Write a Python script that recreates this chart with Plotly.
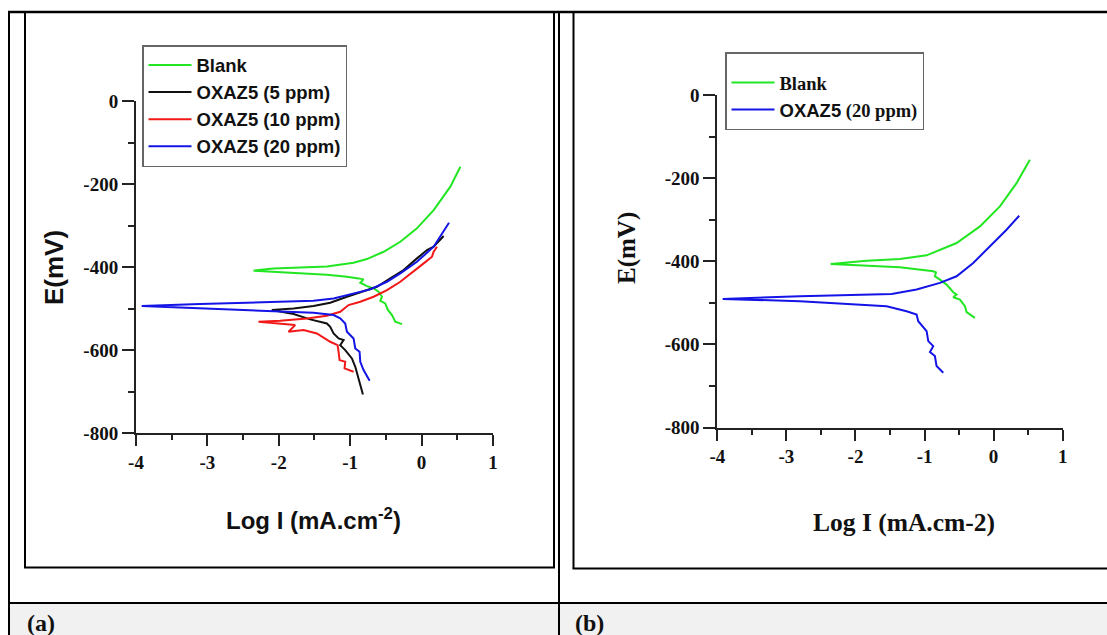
import plotly.graph_objects as go

W, H = 1107, 635

# ---------------- data ----------------
# Panel (a)
a_blank_x = [-0.274, -0.367, -0.414, -0.475, -0.508, -0.578, -0.554, -0.601, -0.671, -0.765, -0.858, -0.812, -0.882,
             -1.045, -1.326, -1.700, -2.074, -2.354, -2.074, -1.700, -1.326, -0.952, -0.765, -0.531, -0.297, -0.064,
             0.170, 0.404, 0.544]
a_blank_y = [-536.7, -531, -515, -501.3, -486.9, -480.5, -470.8, -458.8, -450.7, -445.1, -437.1, -429, -426.6,
             -422.6, -417.8, -414.6, -411.4, -408, -402.5, -400.1, -397.7, -388.9, -380, -362.4, -338.3, -306.1,
             -262, -205.7, -157.5]

a_5ppm_x = [-0.821, -0.882, -0.928, -0.975, -1.069, -1.139, -1.092, -1.162, -1.232, -1.279, -1.326, -1.560, -1.793,
            -2.097, -1.793, -1.513, -1.279, -1.045, -0.905, -0.765, -0.625, -0.438, -0.251, -0.064, 0.077, 0.170, 0.310]
a_5ppm_y = [-706.2, -671.6, -639.5, -619.4, -599.3, -587.3, -575.2, -571.2, -559.2, -543.1, -535.1, -525.4, -512.6,
            -503, -498.9, -493.3, -485.3, -470.8, -462.8, -456.4, -446.7, -426.6, -406.6, -378.4, -358.4, -350.3, -324.6]

a_10ppm_x = [-0.952, -1.078, -1.069, -1.148, -1.162, -1.176, -1.279, -1.466, -1.653, -1.863, -1.770, -1.980, -2.284,
             -1.980, -1.606, -1.326, -1.139, -1.022, -0.858, -0.671, -0.484, -0.297, -0.110, 0.030, 0.147, 0.170, 0.217]
a_10ppm_y = [-651.6, -643.5, -627.5, -623.4, -603.4, -587.3, -579.3, -559.2, -551.1, -555.2, -539.1, -535.1, -531,
             -528.7, -523, -516.6, -507, -490.9, -482.9, -470.8, -454.8, -434.7, -410.6, -390.5, -374.4, -362.4, -350.3]

a_20ppm_x = [-0.727, -0.812, -0.858, -0.868, -0.928, -0.952, -1.045, -1.069, -1.139, -1.232, -1.513, -2.167, -3.102,
             -3.920, -3.102, -2.167, -1.513, -1.232, -0.999, -0.718, -0.484, -0.297, -0.064, 0.170, 0.385]
a_20ppm_y = [-673.3, -647.5, -627.5, -603.4, -595.3, -571.2, -555.2, -535.1, -523, -515, -509.4, -504.6, -498.1,
             -493.3, -488.5, -484.5, -480.5, -474.8, -464.4, -453.1, -434.7, -414.6, -386.5, -350.3, -292.5]

# Panel (b)
b_blank_x = [-0.271, -0.391, -0.415, -0.488, -0.584, -0.536, -0.584, -0.681, -0.777, -0.849, -0.835, -0.873, -1.356,
             -1.838, -2.359, -1.838, -1.356, -0.970, -0.536, -0.198, 0.091, 0.332, 0.525]
b_blank_y = [-536, -522.4, -508, -492, -486.4, -480, -474.4, -456, -444, -436, -426.4, -424, -414.4,
             -410.4, -406.4, -398.4, -394.4, -385.6, -356, -316, -268, -212, -156]

b_20ppm_x = [-0.729, -0.826, -0.850, -0.922, -0.874, -0.946, -0.970, -1.091, -1.115, -1.260, -1.549, -2.803, -3.922,
             -2.803, -1.477, -1.115, -0.777, -0.536, -0.295, -0.054, 0.187, 0.371]
b_20ppm_y = [-668, -652, -628, -618.4, -604, -592, -568, -544, -528, -520, -508, -496, -490.4,
             -484, -478.4, -468, -452, -436, -404, -364, -324, -290.4]

x_tickvals = [-4, -3, -2, -1, 0, 1]
x_ticktext = ["-4", "-3", "-2", "-1", "0", "1"]
x_minor = [-3.5, -2.5, -1.5, -0.5, 0.5]
y_tickvals = [0, -200, -400, -600, -800]
y_ticktext = ["0", "-200", "-400", "-600", "-800"]
y_minor = [-100, -300, -500, -700]

names_a = ["Blank", "OXAZ5 (5 ppm)", "OXAZ5 (10 ppm)", "OXAZ5 (20 ppm)"]
names_b = ["Blank", '<span style="font-family:Liberation Sans, Arial, sans-serif">OXAZ5</span> (20 ppm)']

GREEN, BLACK, RED, BLUE = "#22e622", "#111111", "#f21818", "#1414e6"

# ---------------- helpers ----------------
def px(x):
    return x / W

def py(y):
    return 1 - y / H

SERIF = "Liberation Serif, Times New Roman, serif"
SANS = "Liberation Sans, Arial, sans-serif"

fig = go.Figure()

series_a = [(a_blank_x, a_blank_y, GREEN, names_a[0]),
            (a_5ppm_x, a_5ppm_y, BLACK, names_a[1]),
            (a_10ppm_x, a_10ppm_y, RED, names_a[2]),
            (a_20ppm_x, a_20ppm_y, BLUE, names_a[3])]
for xs, ys, c, n in series_a:
    fig.add_trace(go.Scatter(x=xs, y=ys, mode="lines", name=n, line=dict(color=c, width=2),
                             xaxis="x", yaxis="y", legend="legend"))

series_b = [(b_blank_x, b_blank_y, GREEN, names_b[0]),
            (b_20ppm_x, b_20ppm_y, BLUE, names_b[1])]
for xs, ys, c, n in series_b:
    fig.add_trace(go.Scatter(x=xs, y=ys, mode="lines", name=n, line=dict(color=c, width=2),
                             xaxis="x2", yaxis="y2", legend="legend2"))

TICKFONT = dict(family=SERIF, size=19, color="#111", weight="bold")

def xaxis_cfg(domain, anchor):
    return dict(domain=domain, anchor=anchor, range=[-4, 1], showgrid=False, zeroline=False,
                showline=True, linecolor="#222", linewidth=2,
                tickmode="array", tickvals=x_tickvals, ticktext=x_ticktext,
                ticks="outside", ticklen=11, tickwidth=2, tickcolor="#222",
                tickfont=TICKFONT,
                minor=dict(tickmode="array", tickvals=x_minor, ticks="outside", ticklen=5,
                           tickwidth=2, tickcolor="#222"),
                fixedrange=True)

def yaxis_cfg(domain, anchor):
    return dict(domain=domain, anchor=anchor, range=[-800, 0], showgrid=False, zeroline=False,
                showline=True, linecolor="#222", linewidth=2,
                tickmode="array", tickvals=y_tickvals, ticktext=y_ticktext,
                ticks="outside", ticklen=12, tickwidth=2, tickcolor="#222",
                tickfont=TICKFONT,
                minor=dict(tickmode="array", tickvals=y_minor, ticks="outside", ticklen=6,
                           tickwidth=2, tickcolor="#222"),
                fixedrange=True)

fig.update_layout(
    width=W, height=H, margin=dict(l=0, r=0, t=0, b=0, pad=0, autoexpand=False),
    paper_bgcolor="white", plot_bgcolor="rgba(0,0,0,0)",
    xaxis=xaxis_cfg([px(136), px(492.9)], "y"),
    yaxis=yaxis_cfg([py(433.4), py(101.3)], "x"),
    xaxis2=xaxis_cfg([px(717.3), px(1062.7)], "y2"),
    yaxis2=yaxis_cfg([py(427.6), py(95)], "x2"),
    legend=dict(x=px(142), y=py(45), xanchor="left", yanchor="top",
                bgcolor="white", bordercolor="#666", borderwidth=1.5,
                font=dict(family=SANS, size=18.5, color="#111", weight="bold"),
                itemwidth=43, tracegroupgap=0),
    legend2=dict(x=px(725), y=py(52), xanchor="left", yanchor="top",
                 bgcolor="white", bordercolor="#666", borderwidth=1.5,
                 font=dict(family=SERIF, size=18.5, color="#111", weight="bold"),
                 title=dict(text="&nbsp;", font=dict(size=8)),
                 itemwidth=43, tracegroupgap=0),
    showlegend=True,
)

# ---------------- table frame ----------------
shapes = []
def line(x0, y0, x1, y1, w=2, c="black"):
    shapes.append(dict(type="line", xref="paper", yref="paper", x0=px(x0), y0=py(y0), x1=px(x1), y1=py(y1),
                       line=dict(color=c, width=w), layer="above"))

shapes.append(dict(type="rect", xref="paper", yref="paper", x0=px(9), x1=px(W), y0=py(603), y1=py(H),
                   fillcolor="#f1f1f1", line=dict(width=0), layer="below"))
line(8, 12, W, 12, 2.5)         # top
line(9, 11, 9, H, 2)            # outer left
line(559, 11, 559, H, 2)        # cell divider
line(9, 603, W, 603, 2)         # row line
line(25, 11, 25, 567.5, 2)      # box a left
line(554, 11, 554, 567.5, 2)    # box a right
line(24, 567.5, 555, 567.5, 2)  # box a bottom
line(573.5, 11, 573.5, 568.5, 2)  # box b left
line(572.5, 568.5, W, 568.5, 2)   # box b bottom
fig.update_layout(shapes=shapes)

# ---------------- text ----------------
def text(t, x, y, fam, size, angle=0, xanchor="center"):
    return dict(text=t, x=px(x), y=py(y), xref="paper", yref="paper", showarrow=False,
                textangle=angle, xanchor=xanchor, yanchor="middle",
                font=dict(family=fam, size=size, color="#111", weight="bold"))

ann = [
    text("E(mV)", 54.5, 267.5, SANS, 26, -90),
    text("Log I (mA.cm<sup>-2</sup>)", 313, 519, SANS, 24),
    text("E(mV)", 627, 248, SERIF, 25, -90),
    text("Log I (mA.cm-2)", 904, 522, SERIF, 25.5),
    text("(a)", 25, 623, SERIF, 24, xanchor="left"),
    text("(b)", 573, 623, SERIF, 24, xanchor="left"),
]
fig.update_layout(annotations=ann)

fig.write_html("out.html")
